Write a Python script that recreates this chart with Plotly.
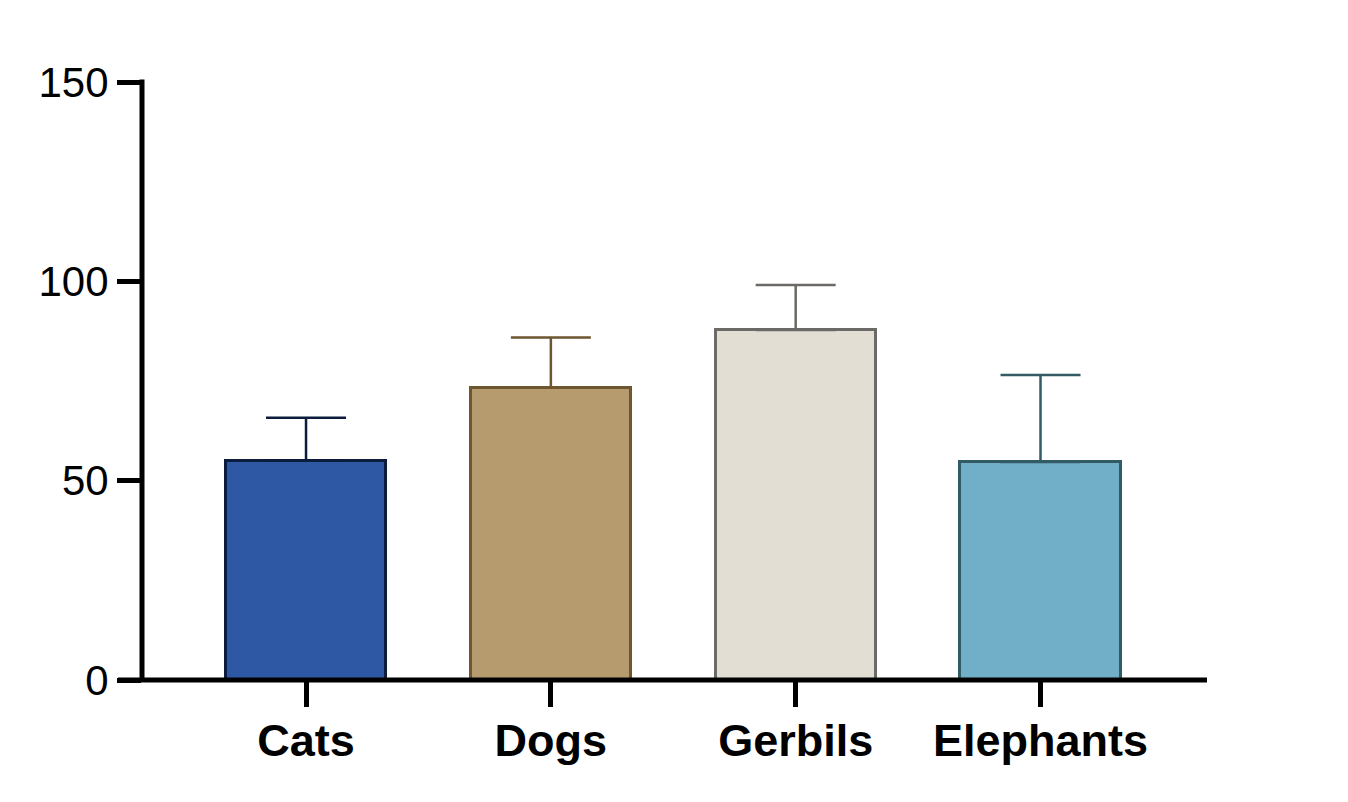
import plotly.graph_objects as go

# values
animals = ['Cats', 'Dogs', 'Gerbils', 'Elephants']
means = [55, 73.3, 87.8, 54.7]
sd_upper = [10.8, 12.6, 11.3, 21.8]
fill_colors = ['#2E58A4', '#B59B6E', '#E2DED4', '#71AFC8']
edge_colors = ['#0B1C3D', '#6E5630', '#6B6A66', '#335B66']
y_ticks = [0, 50, 100, 150]

fig = go.Figure()
for i, name in enumerate(animals):
    fig.add_trace(go.Bar(
        x=[name], y=[means[i]],
        width=0.654,
        marker=dict(color=fill_colors[i], line=dict(color=edge_colors[i], width=3)),
        error_y=dict(type='data', array=[sd_upper[i]], arrayminus=[0], symmetric=False,
                     color=edge_colors[i], thickness=2.5, width=40),
        showlegend=False,
    ))

# axis lines as paper shapes so they sit centred on the plot edges and are not clipped
# (the x line also sticks out left of the y axis, as in the original)
fig.add_shape(type='line', xref='paper', yref='paper', x0=-0.0225, x1=1, y0=0, y1=0,
              line=dict(color='black', width=5))
fig.add_shape(type='line', xref='paper', yref='paper', x0=0, x1=0, y0=0, y1=1.004,
              line=dict(color='black', width=5))

# page body has an 8px margin, so margins are shifted by 8
fig.update_layout(
    width=1348, height=802,
    margin=dict(l=134, r=149, t=74, b=130),
    plot_bgcolor='white', paper_bgcolor='white',
    font=dict(family='Liberation Sans, Arial', color='black'),
    bargap=0,
)
fig.update_xaxes(
    range=[-0.67, 3.68], showline=False,
    ticks='outside', ticklen=26, tickwidth=5, tickcolor='black',
    tickfont=dict(size=45, family='Liberation Sans, Arial', weight='bold'),
    ticklabelstandoff=-5,
    showgrid=False, zeroline=False,
)
fig.update_yaxes(
    range=[0, 150], tickvals=y_ticks, showline=False,
    ticks='outside', ticklen=24, tickwidth=5, tickcolor='black',
    tickfont=dict(size=42), showgrid=False, zeroline=False,
)

fig.write_html('out.html')
